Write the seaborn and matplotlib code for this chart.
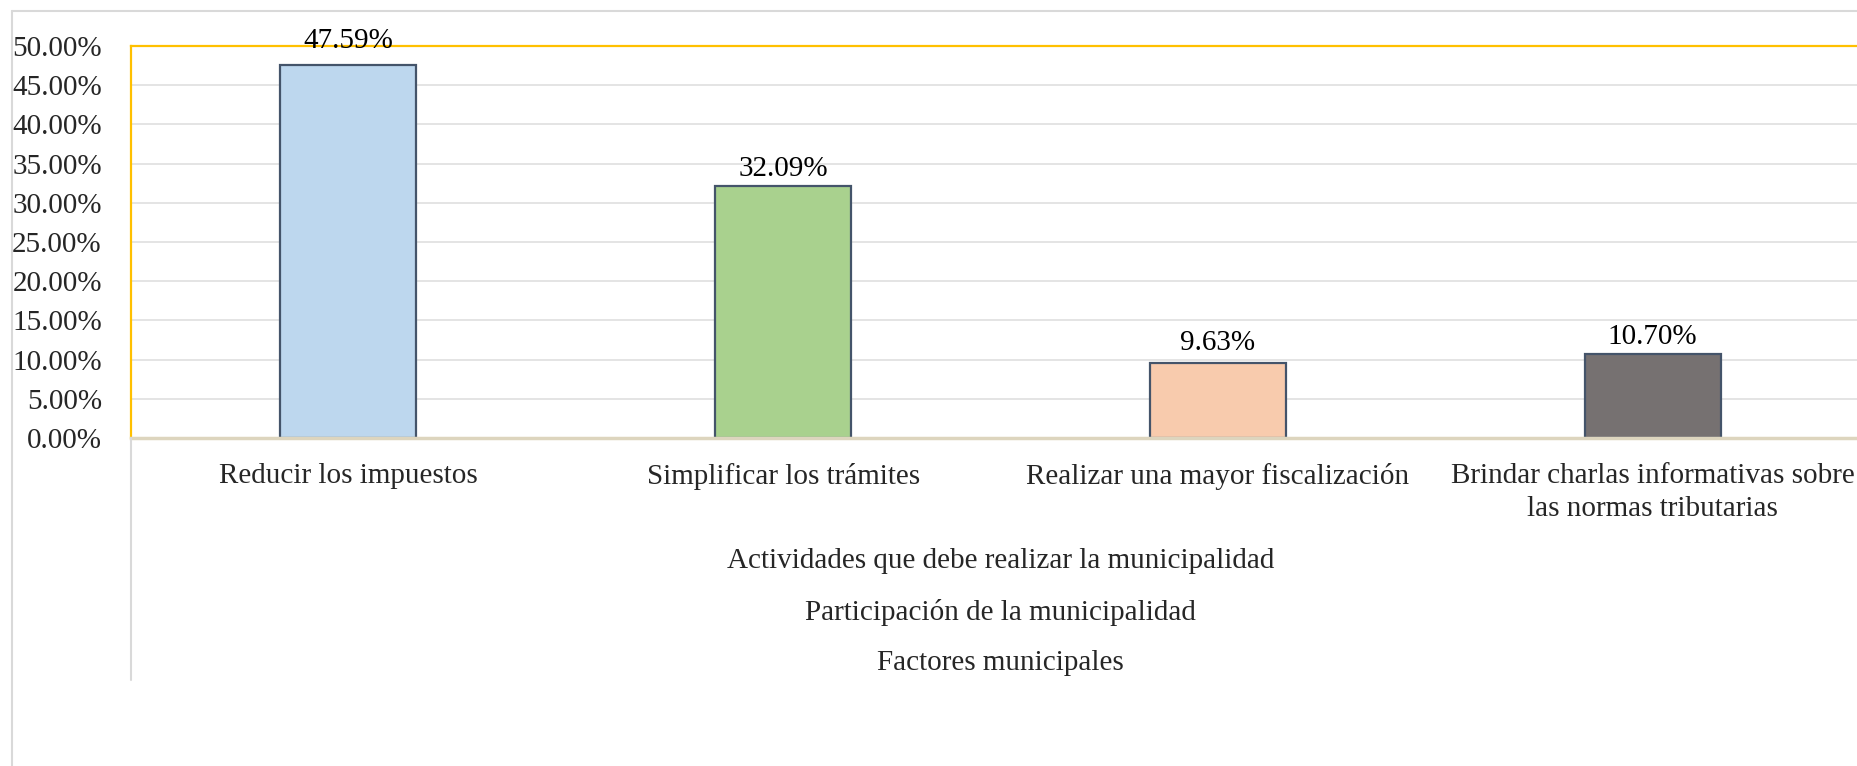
import matplotlib
matplotlib.use("Agg")
import matplotlib.pyplot as plt
import matplotlib.transforms as mtransforms
from matplotlib.lines import Line2D
from matplotlib.ticker import FormatStrFormatter, MultipleLocator
import seaborn as sns
import pandas as pd

# data
categorias = ["Reducir los impuestos",
              "Simplificar los trámites",
              "Realizar una mayor fiscalización",
              "Brindar charlas informativas sobre\nlas normas tributarias"]
porcentajes = [47.59, 32.09, 9.63, 10.70]
colores = ["#BDD7EE", "#A9D18E", "#F8CBAD", "#767171"]
niveles = ["Actividades que debe realizar la municipalidad",
           "Participación de la municipalidad",
           "Factores municipales"]

sns.set_style("white")
plt.rcParams["font.family"] = ["Liberation Serif", "DejaVu Serif"]
FS = 21

W, H = 1858, 766
fig = plt.figure(figsize=(W / 100, H / 100), dpi=100)
# plot area in pixels: left 131, right 1870 (runs off the image), top 46, bottom 438
ax = fig.add_axes([131 / W, 1 - 438 / H, (1870 - 131) / W, (438 - 46) / H])

df = pd.DataFrame({"cat": categorias, "val": porcentajes})
sns.barplot(data=df, x="cat", y="val", hue="cat", palette=colores,
            legend=False, width=0.313, edgecolor="#44546A", linewidth=1.6,
            saturation=1, ax=ax)

# label gap above each bar (the first one sits higher in the original)
pads = [8, 3, 5, 3]
for cont, pad in zip(ax.containers, pads):
    ax.bar_label(cont, fmt="%.2f%%", padding=pad, fontsize=FS, color="black")

ax.set_xlim(-0.5, 3.5)
ax.set_ylim(0, 50)
ax.yaxis.set_major_locator(MultipleLocator(5))
ax.yaxis.set_major_formatter(FormatStrFormatter("%.2f%%"))
ax.grid(axis="y", color="#E4E4E4", linewidth=1.4)
ax.set_axisbelow(True)
ax.set_xlabel("")
ax.set_ylabel("")
ax.tick_params(axis="both", length=0, labelsize=FS)
ax.tick_params(axis="y", pad=21)
ax.tick_params(axis="x", pad=18)
for lab in ax.get_xticklabels():
    lab.set_multialignment("center")
    lab.set_linespacing(1.35)

for side in ["left", "top", "right"]:
    ax.spines[side].set_color("#FFC000")
    ax.spines[side].set_linewidth(1.6)
ax.spines["bottom"].set_color("#DDD5BE")
ax.spines["bottom"].set_linewidth(2.5)

# extra category levels under the axis
trans = mtransforms.blended_transform_factory(ax.transAxes, fig.transFigure)
for txt, ypx in zip(niveles, [561, 613, 663]):
    ax.text(0.5, 1 - ypx / H, txt, transform=trans, ha="center", va="center",
            fontsize=FS)

# chart frame and category divider
gris = "#D9D9D9"
fig.add_artist(Line2D([12 / W, 12 / W], [0, 1 - 11 / H], color=gris, lw=1.5,
                      transform=fig.transFigure))
fig.add_artist(Line2D([12 / W, 1], [1 - 11 / H, 1 - 11 / H], color=gris, lw=1.5,
                      transform=fig.transFigure))
fig.add_artist(Line2D([131 / W, 131 / W], [1 - 438 / H, 1 - 680 / H], color=gris,
                      lw=1.5, transform=fig.transFigure))

fig.savefig("out.png", dpi=100)
